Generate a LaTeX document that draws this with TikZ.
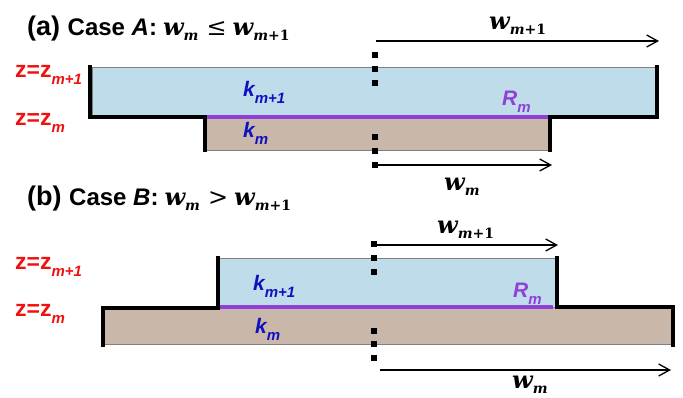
\documentclass[tikz,border=0pt]{standalone}
\usepackage{fontspec}
\setmainfont{Liberation Sans}
\newfontfamily\wfont{DejaVu Serif}
\usetikzlibrary{arrows.meta}
\definecolor{layerblue}{HTML}{BEDCEA}
\definecolor{layerbrown}{HTML}{C9B8A9}
\definecolor{rpurple}{HTML}{9040D8}
\definecolor{kblue}{HTML}{1010C0}
\definecolor{zred}{HTML}{F01010}
\newcommand{\fs}[1]{\fontsize{#1}{#1}\selectfont}
\newcommand{\lsub}[1]{\raisebox{-7pt}{\fs{15}#1}}
\newcommand{\wsym}[1]{{\wfont\bfseries\itshape\fs{24}w}\raisebox{-5pt}{\wfont\bfseries\fs{14}#1}}
\tikzset{
  lab/.style={inner sep=0pt, anchor=base west},
  zlab/.style={lab, text=zred, font=\fs{23}\bfseries},
  klab/.style={lab, text=kblue, font=\fs{21}\bfseries\itshape},
  rlab/.style={lab, text=rpurple, font=\fs{21}\bfseries\itshape},
  wlab/.style={inner sep=0pt, anchor=base west},
  title/.style={lab, font=\fs{24}\bfseries},
  outline/.style={draw=gray, line width=1pt},
  wall/.style={line width=4.5pt, line join=miter, line cap=rect},
  interface/.style={draw=rpurple, line width=3.2pt},
  dimarrow/.style={line width=1.3pt, -{Straight Barb[length=11pt,width=12pt,line width=1.3pt]}},
}
\begin{document}
\begin{tikzpicture}[x=1pt,y=-1pt]
\useasboundingbox (0,0) rectangle (683,397);

% ---------- Case A ----------
\node[title] (ta) at (27,35) {\fs{27}(a) \fs{24}Case \textit{A}:\hspace{6pt}\wsym{\itshape m}\hspace{8pt}{\wfont\mdseries\fs{24}≤}\hspace{6pt}\wsym{{\itshape m}+1}};

\path[fill=layerblue, outline] (92,67) rectangle (657,117);
\path[fill=layerbrown, outline] (205,117) rectangle (550,150);
\draw[interface] (207,117) -- (548,117);
\draw[wall] (90,67) -- (90,117) -- (205,117) -- (205,150);
\draw[wall] (657,67) -- (657,117) -- (550,117) -- (550,150);

\foreach \y in {55,69,83,137,151,165} \fill (372,\y-3) rectangle ++(6,6);

\coordinate (a1s) at (376,41); \coordinate (a1e) at (659,41);
\coordinate (a2s) at (375,165); \coordinate (a2e) at (552,165);
\draw[dimarrow] (a1s) -- (a1e);
\draw[dimarrow] (a2s) -- (a2e);
\node[wlab] (wa1) at (489,29) {\wsym{{\itshape m}+1}};
\node[wlab] (wa2) at (444,190) {\wsym{\itshape m}};

\node[zlab] (za1) at (15,77) {z=z\lsub{\itshape m+1}};
\node[zlab] (za2) at (15,125) {z=z\lsub{\itshape m}};
\node[klab] (ka1) at (243,96) {k\lsub{m+1}};
\node[klab] (ka2) at (243,137) {k\lsub{m}};
\node[rlab] (ra) at (502,105) {R\lsub{m}};

% ---------- Case B ----------
\node[title] (tb) at (27,205) {\fs{27}(b) \fs{24}Case \textit{B}:\hspace{6pt}\wsym{\itshape m}\hspace{8pt}{\wfont\mdseries\fs{24}>}\hspace{6pt}\wsym{{\itshape m}+1}};

\path[fill=layerblue, outline] (218,258) rectangle (557,307);
\path[fill=layerbrown, outline] (103,307) rectangle (673,344);
\draw[interface] (220,307) -- (553,307);
\draw[wall] (218,258) -- (218,308) -- (103,308) -- (103,345);
\draw[wall] (557,258) -- (557,307) -- (673,307) -- (673,345);

\foreach \y in {244,258,272,331,344,358} \fill (371,\y-3) rectangle ++(6,6);

\coordinate (b1s) at (375,245); \coordinate (b1e) at (558,245);
\coordinate (b2s) at (380,370); \coordinate (b2e) at (671,370);
\draw[dimarrow] (b1s) -- (b1e);
\draw[dimarrow] (b2s) -- (b2e);
\node[wlab] (wb1) at (437,233) {\wsym{{\itshape m}+1}};
\node[wlab] (wb2) at (512,388) {\wsym{\itshape m}};

\node[zlab] (zb1) at (15,269) {z=z\lsub{\itshape m+1}};
\node[zlab] (zb2) at (15,316) {z=z\lsub{\itshape m}};
\node[klab] (kb1) at (253,290) {k\lsub{m+1}};
\node[klab] (kb2) at (255,333) {k\lsub{m}};
\node[rlab] (rb) at (513,297) {R\lsub{m}};
\end{tikzpicture}
\end{document}
